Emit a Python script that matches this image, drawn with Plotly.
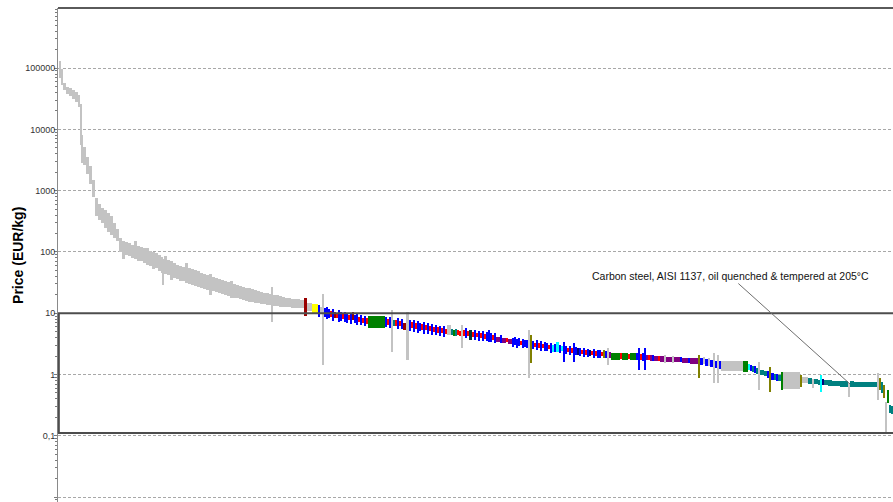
import numpy as np
import plotly.graph_objects as go

# ---- Records that fail the selection (grey), in ranked order ----
grey_span = [2, 2, 3, 3, 3, 3, 3, 2, 2, 1,
             3, 3, 3, 3, 3, 3, 3, 3, 3, 3,
             3, 3, 3, 3, 3, 3, 3, 3, 3, 3,
             3, 3, 3, 3, 3, 3, 2, 1, 3, 3,
             3, 3, 3, 3, 3, 3, 3, 3, 3, 3,
             3, 3, 3, 3, 3, 3, 3, 3, 3, 3,
             3, 3, 3, 3, 3, 3, 3, 3, 3, 3,
             3, 3, 3, 3, 1, 3, 3, 3, 3, 3,
             3, 3, 3, 3, 4]
grey_lo = [70000, 52000, 44000, 38000, 35000, 31000, 28000, 23000, 5500, 2800,
           2600, 1900, 1300, 800, 390, 330, 300, 250, 210, 190,
           170, 150, 100, 78, 90, 85, 80, 78, 72, 70,
           66, 62, 60, 52, 55, 48, 46, 29, 44, 42,
           35, 38, 36, 34, 33, 31, 30, 29, 28, 27,
           26, 25, 24, 20, 23, 22, 21, 20.5, 20, 19,
           18, 18, 17.5, 17, 16.5, 16, 15.5, 15, 14.8, 14.5,
           14.2, 14, 13.8, 13.5, 7.2, 13.3, 13, 12.8, 12.7, 12.6,
           12.5, 12.4, 12.3, 12.2, 12.0]
grey_hi = [128000, 95000, 58000, 50000, 47000, 44000, 41000, 36000, 26000, 8000,
           5200, 3600, 2500, 1500, 750, 600, 520, 480, 430, 380,
           300, 240, 170, 150, 145, 140, 132, 150, 125, 120,
           115, 118, 105, 100, 95, 90, 82, 78, 86, 75,
           70, 66, 62, 60, 57, 66, 54, 52, 50, 48,
           46, 44, 42, 43, 39, 37, 36, 35, 33, 32,
           33, 30, 29, 28, 27, 26, 25.5, 25, 24, 23,
           22, 21.5, 21, 20.5, 27, 20, 19.5, 19, 18.5, 18,
           17.6, 17.2, 17, 16.8, 16.4]

# ---- Records inside the price window, with their material family ----
sel_span = [3, 5, 6, 2, 2, 2, 2, 2, 2, 2,
            2, 2, 2, 2, 2, 2, 2, 2, 2, 2,
            2, 2, 2, 2, 2, 2, 2, 2, 17, 2,
            2, 2, 2, 2, 2, 2, 2, 2, 3, 3,
            2, 2, 2, 2, 2, 2, 2, 2, 2, 2,
            2, 2, 2, 2, 2, 2, 2, 2, 2, 4,
            2, 2, 2, 2, 2, 2, 2, 2, 2, 3,
            2, 2, 2, 2, 2, 2, 2, 2, 2, 2,
            2, 2, 4, 2, 4, 2, 4, 2, 2, 2,
            2, 2, 2, 2, 2, 2, 2, 2, 2, 2,
            2, 2, 2, 2, 2, 2, 2, 2, 2, 3,
            2, 2, 2, 2, 2, 2, 2, 2, 2, 2,
            2, 2, 2, 2, 2, 2, 2, 2, 2, 2,
            2, 2, 2, 2, 2, 2, 9, 2, 6, 2,
            6, 2, 2, 2, 2, 2, 2, 2, 2, 2,
            4, 2, 4, 2, 6, 2, 6, 2, 6, 2,
            8, 2, 3, 2, 3, 2, 3, 2, 2, 2,
            2, 22, 5, 2, 2, 2, 2, 2, 2, 4,
            3, 2, 2, 3, 2, 2, 3, 2, 17, 2,
            6, 4, 2, 4, 2, 2, 2, 4, 4, 4,
            4, 4, 4, 2, 4, 4, 4, 4, 4, 4,
            3, 2, 2, 2, 2, 2, 2, 2, 2]
sel_lo = [9.0, 10.9, 10.1, 8.67, 10.1, 1.43, 8.67, 8.04, 8.35, 8.67,
          7.46, 8.35, 8.35, 7.18, 7.46, 8.04, 7.18, 6.92, 7.74, 6.66,
          7.74, 6.92, 6.42, 7.18, 6.42, 6.92, 6.18, 6.66, 5.74, 5.95,
          6.42, 5.74, 2.33, 6.18, 6.18, 5.52, 6.18, 5.52, 5.32, 1.72,
          5.12, 5.74, 4.93, 5.52, 4.75, 5.12, 5.32, 4.58, 5.32, 4.58,
          5.12, 4.41, 4.93, 4.41, 4.75, 4.25, 4.75, 4.09, 4.58, 4.41,
          4.41, 4.25, 4.25, 4.41, 4.25, 2.71, 4.25, 3.94, 4.25, 3.65,
          4.09, 3.65, 4.09, 3.52, 3.94, 3.52, 3.79, 3.52, 3.39, 3.39,
          3.65, 3.27, 3.39, 3.27, 3.27, 3.39, 3.15, 2.81, 3.03, 2.71,
          2.92, 3.03, 2.71, 2.81, 2.71, 0.877, 1.54, 2.61, 2.81, 2.51,
          2.71, 2.42, 2.71, 2.42, 2.42, 2.61, 2.24, 2.33, 2.33, 2.33,
          2.24, 2.42, 1.60, 2.16, 2.33, 2.08, 2.24, 1.60, 2.08, 2.08,
          2.00, 2.16, 1.93, 2.08, 1.93, 2.00, 2.08, 1.86, 2.00, 1.86,
          1.86, 2.00, 1.86, 1.86, 1.43, 1.86, 1.72, 1.79, 1.72, 1.79,
          1.72, 1.72, 1.18, 1.72, 1.66, 1.18, 1.72, 1.72, 1.66, 1.66,
          1.66, 1.66, 1.60, 1.54, 1.60, 1.54, 1.60, 1.60, 1.54, 1.54,
          1.48, 0.877, 1.43, 1.48, 1.38, 1.38, 1.33, 0.727, 1.28, 0.727,
          1.23, 1.14, 1.10, 1.18, 1.14, 1.10, 1.06, 1.02, 0.559, 0.98,
          0.945, 0.877, 0.518, 0.813, 0.813, 0.783, 0.783, 0.559, 0.58, 0.625,
          0.727, 0.70, 0.602, 0.70, 0.674, 0.518, 0.674, 0.674, 0.649, 0.649,
          0.649, 0.625, 0.625, 0.43, 0.625, 0.625, 0.625, 0.625, 0.625, 0.625,
          0.625, 0.384, 0.559, 0.50, 0.414, 0.111, 0.343, 0.235, 0.226]
sel_hi = [17.7, 14.7, 14.1, 13.6, 12.6, 20.6, 12.2, 12.6, 11.7, 10.9,
          11.7, 10.5, 10.1, 11.3, 10.5, 9.7, 10.5, 10.1, 9.35, 10.1,
          10.5, 9.35, 9.7, 8.67, 9.35, 8.35, 9.0, 8.35, 9.0, 8.67,
          8.04, 8.67, 11.3, 7.74, 7.74, 8.35, 7.46, 8.04, 6.92, 10.5,
          7.74, 7.18, 7.74, 6.92, 7.46, 6.92, 6.66, 7.18, 6.42, 6.92,
          6.18, 6.66, 5.95, 6.42, 5.95, 6.18, 5.74, 6.18, 5.52, 6.42,
          5.52, 5.32, 5.52, 5.32, 5.12, 6.42, 5.32, 5.74, 5.12, 5.32,
          4.93, 5.32, 4.75, 5.12, 4.75, 5.12, 4.58, 4.93, 5.32, 4.75,
          4.41, 4.75, 4.09, 4.41, 3.94, 3.94, 3.79, 3.94, 4.09, 3.79,
          3.94, 3.52, 3.79, 3.65, 3.65, 5.32, 4.41, 3.52, 3.27, 3.65,
          3.27, 3.52, 3.15, 3.39, 3.27, 3.03, 3.27, 3.03, 3.15, 3.39,
          3.03, 2.92, 3.39, 2.92, 2.71, 2.92, 2.71, 3.27, 2.81, 2.71,
          2.71, 2.51, 2.71, 2.51, 2.61, 2.51, 2.42, 2.61, 2.42, 2.51,
          2.51, 2.33, 2.51, 2.42, 2.71, 2.33, 2.24, 2.24, 2.24, 2.16,
          2.24, 2.24, 2.71, 2.16, 2.24, 2.71, 2.08, 2.08, 2.08, 2.08,
          2.00, 2.00, 2.00, 2.08, 1.93, 2.00, 1.93, 1.93, 1.86, 1.86,
          1.86, 2.08, 1.86, 1.93, 1.79, 1.86, 1.72, 2.24, 1.66, 2.08,
          1.66, 1.66, 1.66, 1.48, 1.43, 1.38, 1.38, 1.28, 1.60, 1.18,
          1.14, 1.14, 1.33, 1.06, 1.02, 1.02, 0.98, 1.10, 1.10, 0.98,
          0.91, 0.877, 0.845, 0.845, 0.813, 0.98, 0.845, 0.813, 0.813, 0.783,
          0.783, 0.783, 0.783, 0.727, 0.783, 0.754, 0.754, 0.754, 0.754, 0.754,
          0.754, 1.06, 0.877, 0.754, 0.674, 0.356, 0.559, 0.318, 0.306]
sel_family = ['DR', 'K', 'Y', 'B', 'K', 'K', 'B', 'B', 'B', 'R',
              'B', 'DR', 'R', 'B', 'B', 'R', 'B', 'B', 'R', 'B',
              'DR', 'B', 'B', 'R', 'B', 'R', 'B', 'R', 'G', 'B',
              'R', 'B', 'K', 'T', 'R', 'B', 'R', 'B', 'DR', 'K',
              'B', 'R', 'B', 'R', 'B', 'B', 'R', 'B', 'R', 'B',
              'R', 'B', 'R', 'B', 'R', 'B', 'R', 'B', 'R', 'K',
              'T', 'G', 'T', 'R', 'R', 'K', 'R', 'B', 'R', 'D',
              'R', 'B', 'R', 'B', 'R', 'B', 'R', 'B', 'B', 'B',
              'R', 'B', 'P', 'B', 'P', 'R', 'P', 'B', 'B', 'B',
              'B', 'R', 'B', 'B', 'B', 'K', 'O', 'B', 'R', 'B',
              'R', 'B', 'R', 'B', 'B', 'R', 'B', 'C', 'B', 'C',
              'B', 'C', 'B', 'B', 'R', 'B', 'R', 'B', 'B', 'N',
              'B', 'R', 'B', 'R', 'B', 'N', 'R', 'B', 'R', 'B',
              'B', 'R', 'O', 'B', 'K', 'P', 'G', 'R', 'G', 'R',
              'G', 'B', 'B', 'R', 'B', 'B', 'P', 'R', 'P', 'B',
              'P', 'R', 'P', 'K', 'P', 'K', 'P', 'B', 'P', 'B',
              'P', 'O', 'B', 'K', 'B', 'K', 'B', 'K', 'B', 'K',
              'B', 'K', 'G', 'C', 'B', 'T', 'B', 'T', 'K', 'T',
              'T', 'B', 'O', 'B', 'T', 'B', 'T', 'G', 'K', 'O',
              'K', 'T', 'K', 'T', 'T', 'C', 'N', 'T', 'T', 'T',
              'T', 'T', 'T', 'K', 'T', 'T', 'T', 'T', 'T', 'T',
              'T', 'K', 'O', 'T', 'O', 'K', 'G', 'T', 'T']

family_colors = {
    'K': '#c3c3c3', 'B': '#0000ff', 'R': '#ff0000', 'DR': '#990000',
    'Y': '#ffff00', 'G': '#008000', 'T': '#008080', 'C': '#00ffff',
    'O': '#808000', 'P': '#800080', 'N': '#000080', 'D': '#003838',
}

tick_vals = [0.01, 0.1, 1, 10, 100, 1000, 10000, 100000]
tick_text = ['0,01', '0,1', '1', '10', '100', '1000', '10000', '100000']

window_max = 10.0
window_min = 0.111

note_text = 'Carbon steel, AISI 1137, oil quenched & tempered at 205°C'
note_rank = 792
note_price = 0.70

# ---- assemble ranked bars ----
span = np.array(grey_span + sel_span, dtype=float)
lo = np.array(grey_lo + sel_lo, dtype=float)
hi = np.array(grey_hi + sel_hi, dtype=float)
family = ['K'] * len(grey_span) + sel_family
colors = [family_colors[f] for f in family]

start = 1 + np.concatenate([[0.0], np.cumsum(span)[:-1]])
center = start + span / 2
n_ranks = 835

fig = go.Figure()
fig.add_trace(go.Bar(
    x=center, y=hi - lo, base=lo, width=span + 0.3,
    marker=dict(color=colors, line=dict(width=0)),
    hoverinfo='skip', showlegend=False,
))

minor_vals = [k * 10.0 ** d for d in range(-3, 6) for k in range(2, 10)]

fig.update_layout(
    width=893, height=502,
    margin=dict(l=58, r=0, t=8, b=0),
    paper_bgcolor='white', plot_bgcolor='white',
    font=dict(family='Liberation Sans, Arial, sans-serif', color='#222222'),
    bargap=0,
    xaxis=dict(range=[0, n_ranks], visible=False),
    yaxis=dict(
        type='log', range=[-2.08, 5.98],
        tickmode='array', tickvals=tick_vals, ticktext=tick_text,
        ticks='outside', ticklen=3, tickwidth=1, tickcolor='#7a7a7a',
        ticklabelstandoff=-3,
        tickfont=dict(size=9, color='#333333'),
        showline=True, linecolor='#8a8a8a', linewidth=1,
        showgrid=True, gridcolor='#a8a8a8', gridwidth=1, griddash='3px,2px',
        zeroline=False,
        minor=dict(tickvals=minor_vals, ticks='outside', ticklen=2,
                   tickcolor='#7a7a7a', showgrid=False),
    ),
)

# selection window
box_color = '#4d4d4d'
for yv in (window_max, window_min):
    fig.add_shape(type='line', xref='paper', yref='y', x0=0, x1=1,
                  y0=yv, y1=yv, line=dict(color=box_color, width=2))
fig.add_shape(type='line', xref='paper', yref='y', x0=0.001, x1=0.001,
              y0=window_min, y1=window_max, line=dict(color=box_color, width=2))
# frame top
fig.add_shape(type='line', xref='paper', yref='paper', x0=0, x1=1, y0=1, y1=1,
              line=dict(color='#5a5a5a', width=2))

fig.add_annotation(
    x=note_rank, y=np.log10(note_price), xref='x', yref='y',
    text=note_text, showarrow=True, arrowhead=0, arrowwidth=1,
    arrowcolor='#6e6e6e', ax=-120, ay=-108,
    font=dict(size=10.5, color='#111111'),
)
fig.add_annotation(
    xref='paper', yref='paper', x=-0.048, y=0.5, xanchor='center',
    yanchor='middle', text='<b>Price (EUR/kg)</b>', textangle=-90,
    showarrow=False, font=dict(size=14, color='#000000'),
)

fig.write_html('out.html')
